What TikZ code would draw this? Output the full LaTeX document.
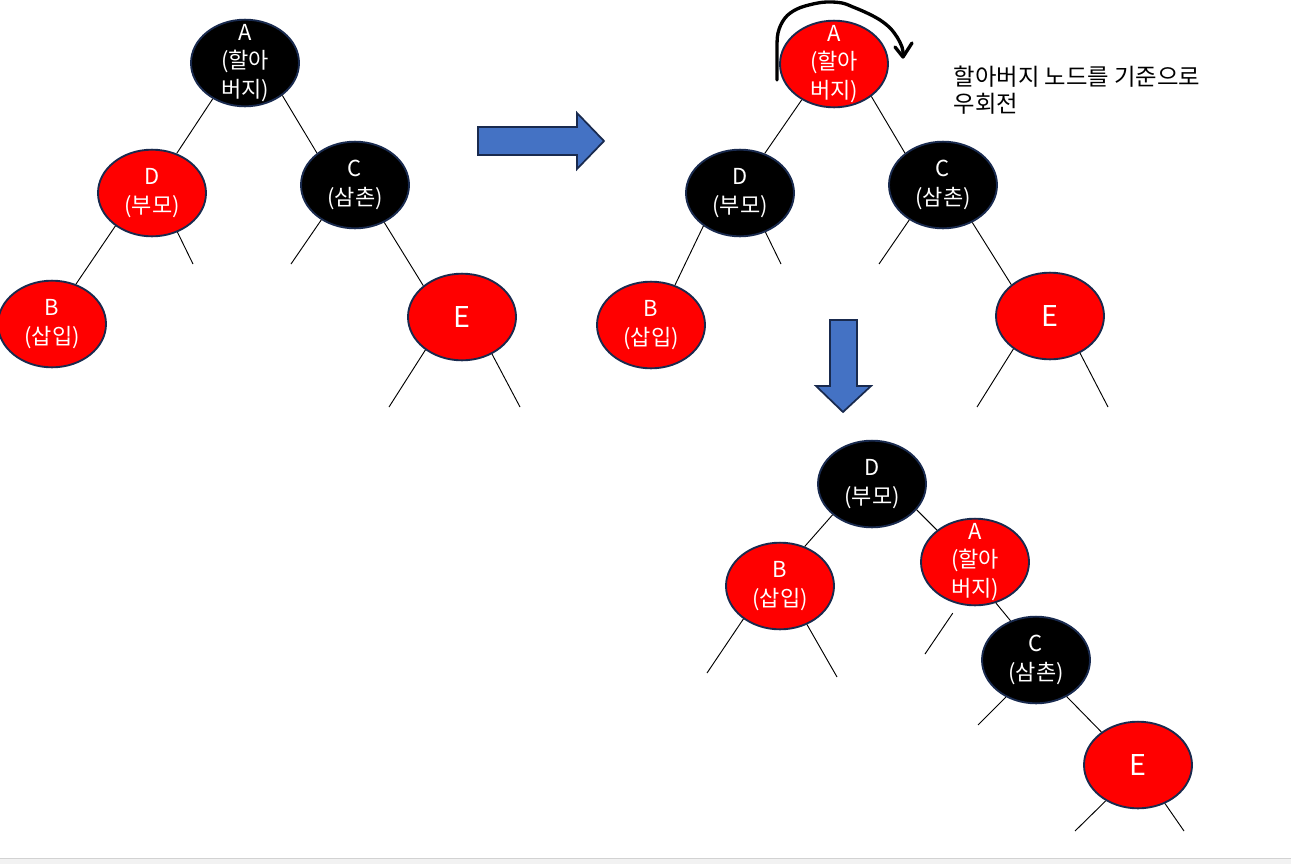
\documentclass[tikz,border=0pt]{standalone}
\usepackage{fontspec}
\setmainfont{Noto Sans CJK KR}
\usepackage{tikz}
\usetikzlibrary{shapes.geometric, arrows}
\definecolor{outline}{RGB}{25,42,78}
\definecolor{arrowblue}{RGB}{68,114,196}
\tikzstyle{rbnode} = [ellipse, minimum width=81pt, minimum height=65pt, inner xsep=0pt, inner ysep=-20pt, draw=outline, line width=1.4pt, text=white, align=center, font=\fontsize{16.5}{21.5}\selectfont]
\tikzstyle{edge} = [line width=0.7pt]
\tikzstyle{bigarrow} = [fill=arrowblue, draw=outline, line width=1.3pt, line join=miter]

\begin{document}
\begin{tikzpicture}[x=0.75pt, y=-0.75pt]
		\useasboundingbox (0,0) rectangle (1291,864);
		% Before rotation
		\coordinate (lA) at (245,63);
		\coordinate (lD) at (152,193);
		\coordinate (lC) at (355,185);
		\coordinate (lB) at (52,324);
		\coordinate (lE) at (462,317);
		% Rotation step
		\coordinate (rA) at (834,64);
		\coordinate (rD) at (740,193);
		\coordinate (rC) at (943,185);
		\coordinate (rB) at (651,325);
		\coordinate (rE) at (1050,316);
		% After rotation
		\coordinate (bD) at (872,484);
		\coordinate (bB) at (780,586);
		\coordinate (bA) at (975,562);
		\coordinate (bC) at (1036,660);
		\coordinate (bE) at (1138,765);
		% Black nodes
		\begin{scope}[every node/.style={rbnode, fill=black}]
		\node[name=lA] at (lA) {A\\(할아\\버지)};
		\node[name=lC] at (lC) {C\\(삼촌)};
		\node[name=rD] at (rD) {D\\(부모)};
		\node[name=rC] at (rC) {C\\(삼촌)};
		\node[name=bD] at (bD) {D\\(부모)};
		\node[name=bC] at (bC) {C\\(삼촌)};
		\end{scope}
		% Red nodes
		\begin{scope}[every node/.style={rbnode, fill=red}]
		\node[name=lD] at (lD) {D\\(부모)};
		\node[name=lB] at (lB) {B\\(삽입)};
		\node[name=lE, font=\fontsize{21.5}{24}\selectfont] at (lE) {E};
		\node[name=rA] at (rA) {A\\(할아\\버지)};
		\node[name=rB] at (rB) {B\\(삽입)};
		\node[name=rE, font=\fontsize{21.5}{24}\selectfont] at (rE) {E};
		\node[name=bB] at (bB) {B\\(삽입)};
		\node[name=bA] at (bA) {A\\(할아\\버지)};
		\node[name=bE, font=\fontsize{21.5}{24}\selectfont] at (bE) {E};
		\end{scope}
		% Empty leaves
		\coordinate (lDr) at (193,264);
		\coordinate (lCl) at (291,264);
		\coordinate (lEl) at (389,407);
		\coordinate (lEr) at (520,407);
		\coordinate (rDr) at (781,264);
		\coordinate (rCl) at (879,264);
		\coordinate (rEl) at (977,407);
		\coordinate (rEr) at (1108,407);
		\coordinate (bBl) at (707,673);
		\coordinate (bBr) at (837,677);
		\coordinate (bAl) at (925,654);
		\coordinate (bCl) at (978,725);
		\coordinate (bEl) at (1075,831);
		\coordinate (bEr) at (1184,831);
		% Edges
		\draw [edge] (lA.228)--(lD.58);
		\draw [edge] (lA.319)--(lC.140);
		\draw [edge] (lD.222)--(lB.59);
		\draw [edge] (lD.303)--(lDr);
		\draw [edge] (lC.226)--(lCl);
		\draw [edge] (lC.308)--(lE.141);
		\draw [edge] (lE.222)--(lEl);
		\draw [edge] (lE.309)--(lEr);
		\draw [edge] (rA.228)--(rD.58);
		\draw [edge] (rA.319)--(rC.140);
		\draw [edge] (rD.222)--(rB.59);
		\draw [edge] (rD.303)--(rDr);
		\draw [edge] (rC.226)--(rCl);
		\draw [edge] (rC.308)--(rE.141);
		\draw [edge] (rE.222)--(rEl);
		\draw [edge] (rE.309)--(rEr);
		\draw [edge] (bD.218)--(bB.58);
		\draw [edge] (bD.330)--(bA.140);
		\draw [edge] (bB.222)--(bBl);
		\draw [edge] (bB.305)--(bBr);
		\draw [edge, shorten <=8pt] (bA.249)--(bAl);
		\draw [edge] (bA.297)--(bC.123);
		\draw [edge] (bC.231)--(bCl);
		\draw [edge] (bC.310)--(bE.138);
		\draw [edge] (bE.228)--(bEl);
		\draw [edge] (bE.305)--(bEr);
		% Block arrows
		\draw [bigarrow] (478,127) -- (577,127) -- (577,113) -- (604,141) -- (577,169) -- (577,155) -- (478,155) -- cycle;
		\draw [bigarrow] (830,320) -- (857,320) -- (857,386) -- (871,386) -- (843,412) -- (816,386) -- (830,386) -- cycle;
		% Hand drawn rotation mark
		\draw [line width=2.5pt, line cap=round, line join=round] plot [smooth, tension=0.6] coordinates {(777,80) (777,53) (778,33) (785,18) (797,9) (813,4) (827,2) (842,3) (853,7) (867,13) (880,20) (890,28) (897,37) (902,47) (903,53)};
		\draw [line width=2.5pt, line cap=round, line join=round] (895,47) -- (903,57) -- (912,43);
		\node[name=note, anchor=west, align=left, font=\fontsize{17.5}{20.5}\selectfont] at (949,90) {할아버지 노드를 기준으로\\우회전};
		% Bottom strip
		\fill[gray!10] (0,858) rectangle (1291,864);
		\draw[gray!35, line width=0.75pt] (0,858) -- (1291,858);
\end{tikzpicture}
\end{document}
